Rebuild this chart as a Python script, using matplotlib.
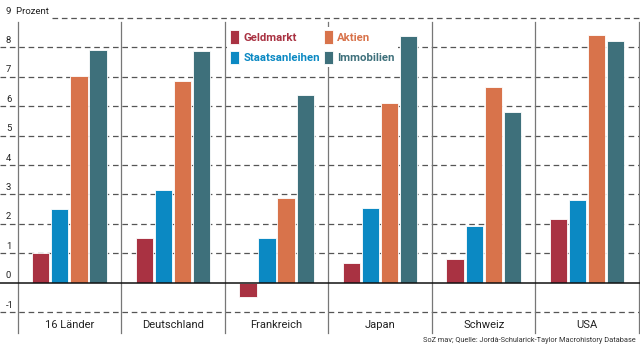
import matplotlib
matplotlib.use("Agg")
import matplotlib.pyplot as plt
import matplotlib.transforms as mtransforms
import numpy as np

plt.rcParams['font.family'] = ['Roboto', 'DejaVu Sans']

countries = ["16 Länder", "Deutschland", "Frankreich", "Japan", "Schweiz", "USA"]
series_names = ["Geldmarkt", "Staatsanleihen", "Aktien", "Immobilien"]
geldmarkt = [1.00, 1.51, -0.48, 0.67, 0.80, 2.18]
staatsanleihen = [2.52, 3.15, 1.53, 2.53, 1.93, 2.80]
aktien = [7.02, 6.87, 2.89, 6.11, 6.66, 8.43]
immobilien = [7.91, 7.87, 6.38, 8.40, 5.80, 8.22]
colors = ["#A93242", "#0B89C3", "#D8734B", "#3E707B"]
yticks = [-1, 1, 2, 3, 4, 5, 6, 7, 8]
source = "SoZ mav; Quelle: Jordà-Schularick-Taylor Macrohistory Database"

fig = plt.figure(figsize=(6.4, 3.44), dpi=100)
ax = fig.add_axes([17.6/640, 1-335/344, (639-17.6)/640, (335-18)/344])
ax.set_xlim(0, len(countries))
ax.set_ylim(-1.78, 9.0)
ax.axis('off')

data = [geldmarkt, staatsanleihen, aktien, immobilien]
x = np.arange(len(countries)) + 0.5
pitch = 0.184
width = 0.166
for k, (vals, c, name) in enumerate(zip(data, colors, series_names)):
    ax.bar(x + (k - 1.5) * pitch, vals, width, color=c, edgecolor='white',
           linewidth=0.6, zorder=3, label=name)

trans = mtransforms.blended_transform_factory(fig.transFigure, ax.transData)
gray = "#555555"
for yv in yticks:
    ax.plot([0, 1], [yv, yv], transform=trans, color=gray, clip_on=False,
            lw=0.9, ls=(0, (4.5, 3)), zorder=1)
    ax.text(6/640, yv + 0.08, str(yv), transform=trans, fontsize=6.8, color="#222222",
            va='bottom', ha='left')
# top line with Prozent
ax.plot([52/640, 1], [9, 9], transform=trans, color=gray, clip_on=False,
        lw=0.9, ls=(0, (4.5, 3)), zorder=1)
ax.text(6/640, 9.08, "9  Prozent", transform=trans, fontsize=6.8, color="#222222",
        va='bottom', ha='left')
ax.text(6/640, 0.08, "0", transform=trans, fontsize=6.8, color="#222222",
        va='bottom', ha='left')
ax.plot([0, 1], [0, 0], transform=trans, color="#111111", clip_on=False,
        lw=1.1, zorder=5)

# group separators
for b in range(len(countries) + 1):
    ax.plot([b, b], [-1.72, 8.85], color="#777777", lw=0.9, zorder=2, clip_on=False)

for xi, name in zip(x, countries):
    ax.text(xi, -1.45, name, ha='center', va='center', fontsize=8, color="#222222")

leg = ax.legend(ncol=2, loc='upper left',
                bbox_to_anchor=((227-17.6)/(639-17.6), 1-(27-18)/317),
                frameon=True, framealpha=1, facecolor='white', edgecolor='none',
                handlelength=0.8, handleheight=1.5, handletextpad=0.4,
                labelspacing=0.6, columnspacing=0.3, borderpad=0.25, borderaxespad=0,
                prop={'weight': 'bold', 'size': 8.2})
leg.set_zorder(6)
for t, c in zip(leg.get_texts(), colors):
    t.set_color(c)

fig.text(636/640, 0.5/344, source, ha='right', va='bottom', fontsize=5.3, color="#333333")

fig.savefig("out.png", dpi=100)
